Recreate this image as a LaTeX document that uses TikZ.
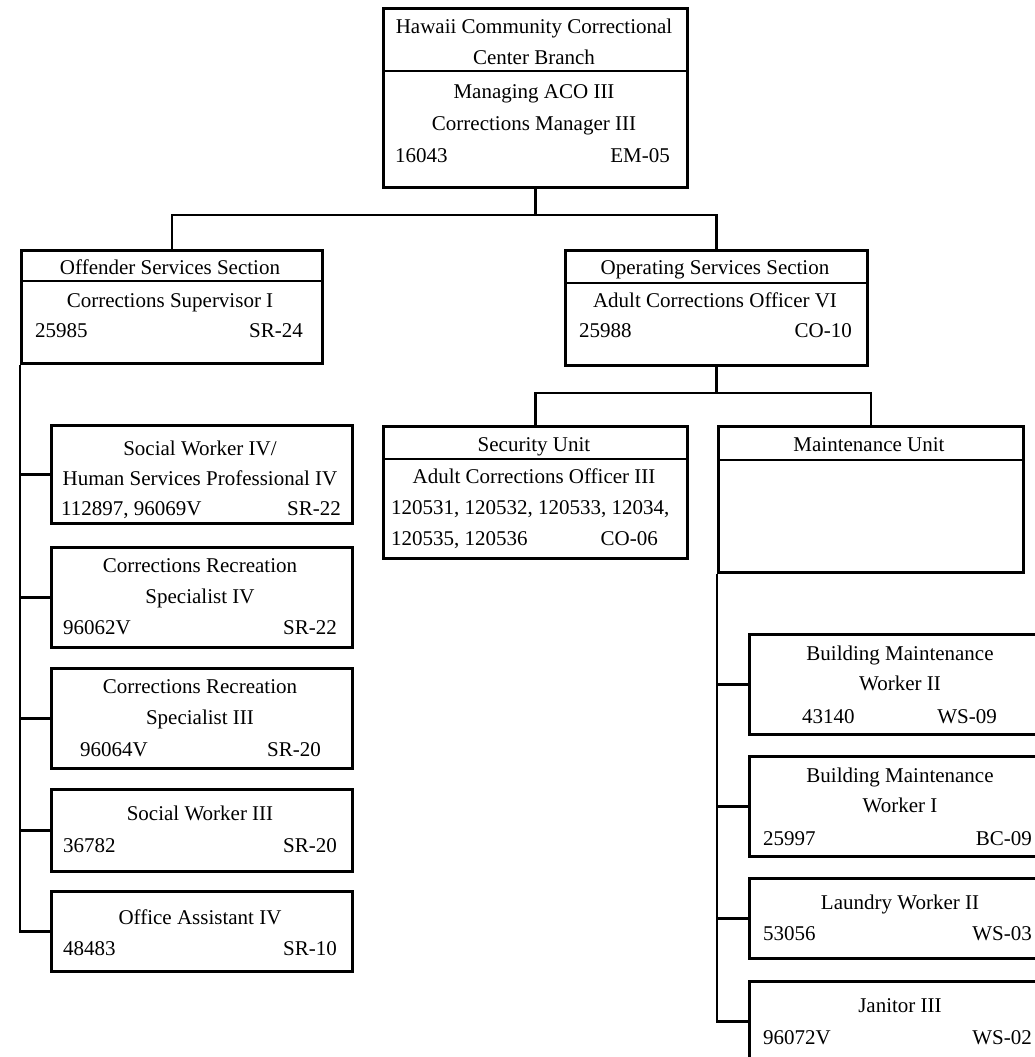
\documentclass[tikz,border=0pt]{standalone}
\usepackage{fontspec}
\setmainfont{Liberation Serif}
\begin{document}
\begin{tikzpicture}[x=1pt,y=-1pt,
  box/.style={draw, line width=2.6pt, inner sep=0pt, anchor=north west},
  ln/.style={line width=2.6pt},
  conn/.style={line width=2.6pt},
  tc/.style={inner sep=0pt, anchor=base, font=\fontsize{21}{25}\selectfont},
  tl/.style={tc, anchor=base west},
  tr/.style={tc, anchor=base east}]
\useasboundingbox (0,0) rectangle (1035,1057);
\clip (0,0) rectangle (1035,1057);
\fill[white] (0,0) rectangle (1035,1057);

% ---- boxes ----
\node[box, minimum width=304pt, minimum height=179pt] (top) at (382,7) {};
\node[box, minimum width=301pt, minimum height=113pt] (off) at (20,249) {};
\node[box, minimum width=302pt, minimum height=115pt] (ops) at (564,249) {};
\node[box, minimum width=304pt, minimum height=132pt] (sec) at (382,425) {};
\node[box, minimum width=305pt, minimum height=146pt] (mnt) at (717,425) {};

\node[box, minimum width=301pt, minimum height=98pt] (swf) at (50,424) {};
\node[box, minimum width=301pt, minimum height=100pt] (crf) at (50,546) {};
\node[box, minimum width=301pt, minimum height=100pt] (crt) at (50,667) {};
\node[box, minimum width=301pt, minimum height=82pt] (swt) at (50,788) {};
\node[box, minimum width=301pt, minimum height=80pt] (oa) at (50,890) {};

\node[box, minimum width=304pt, minimum height=100pt] (bmb) at (748,633) {};
\node[box, minimum width=304pt, minimum height=100pt] (bma) at (748,755) {};
\node[box, minimum width=304pt, minimum height=80pt] (lw) at (748,877) {};
\node[box, minimum width=304pt, minimum height=80pt] (jan) at (748,980) {};

% ---- dividers ----
\draw[ln] (top.west |- 0,71) -- (top.east |- 0,71);
\draw[ln] (off.west |- 0,281) -- (off.east |- 0,281);
\draw[ln] (ops.west |- 0,283) -- (ops.east |- 0,283);
\draw[ln] (sec.west |- 0,459) -- (sec.east |- 0,459);
\draw[ln] (mnt.west |- 0,460) -- (mnt.east |- 0,460);

% ---- connectors ----
\coordinate (j1) at (top.south |- 0,215);
\coordinate (j2) at (ops.south |- 0,393);
\draw[conn] (top.south) -- (j1);
\draw[conn] (off.north) |- (j1) -| (ops.north);
\draw[conn] (ops.south) -- (j2);
\draw[conn] (sec.north) |- (j2) -| (mnt.north);

\draw[conn] (off.south west) |- (oa.west);
\foreach \n in {swf,crf,crt,swt}{\draw[conn] (\n.west) -- (\n.west -| off.west);}
\draw[conn] (mnt.south west) |- (jan.west);
\foreach \n in {bmb,bma,lw}{\draw[conn] (\n.west) -- (\n.west -| mnt.west);}

% ---- texts ----
\node[tc] (a1) at (534,34) {Hawaii Community Correctional};
\node[tc] (a2) at (534,65) {Center Branch};
\node[tc] (a3) at (534,98) {Managing ACO III};
\node[tc] (a4) at (534,130) {Corrections Manager III};
\node[tl] (a5) at (395,162) {16043};
\node[tr] (a6) at (670,162) {EM-05};

\node[tc] (b1) at (170,274) {Offender Services Section};
\node[tc] (b2) at (170,307) {Corrections Supervisor I};
\node[tl] (b3) at (35,337) {25985};
\node[tr] (b4) at (303,337) {SR-24};

\node[tc] (c1) at (715,274) {Operating Services Section};
\node[tc] (c2) at (715,307) {Adult Corrections Officer VI};
\node[tl] (c3) at (579,337) {25988};
\node[tr] (c4) at (852,337) {CO-10};

\node[tc] (d1) at (534,451) {Security Unit};
\node[tc] (d2) at (534,483) {Adult Corrections Officer III};
\node[tl] (d3) at (391,514) {120531, 120532, 120533, 12034,};
\node[tl] (d4) at (391,545) {120535, 120536};
\node[tr] (d5) at (658,545) {CO-06};

\node[tc] (e1) at (869,451) {Maintenance Unit};

\node[tc] (f1) at (200,455) {Social Worker IV/};
\node[tc] (f2) at (200,485) {Human Services Professional IV};
\node[tl] (f3) at (61,515) {112897, 96069V};
\node[tr] (f4) at (341,515) {SR-22};

\node[tc] (g1) at (200,572) {Corrections Recreation};
\node[tc] (g2) at (200,603) {Specialist IV};
\node[tl] (g3) at (63,634) {96062V};
\node[tr] (g4) at (337,634) {SR-22};

\node[tc] (h1) at (200,693) {Corrections Recreation};
\node[tc] (h2) at (200,724) {Specialist III};
\node[tl] (h3) at (80,756) {96064V};
\node[tr] (h4) at (321,756) {SR-20};

\node[tc] (i1) at (200,820) {Social Worker III};
\node[tl] (i2) at (63,852) {36782};
\node[tr] (i3) at (337,852) {SR-20};

\node[tc] (k1) at (200,924) {Office Assistant IV};
\node[tl] (k2) at (63,955) {48483};
\node[tr] (k3) at (337,955) {SR-10};

\node[tc] (m1) at (900,660) {Building Maintenance};
\node[tc] (m2) at (900,690) {Worker II};
\node[tl] (m3) at (802,723) {43140};
\node[tr] (m4) at (997,723) {WS-09};

\node[tc] (n1) at (900,782) {Building Maintenance};
\node[tc] (n2) at (900,812) {Worker I};
\node[tl] (n3) at (763,845) {25997};
\node[tr] (n4) at (1032,845) {BC-09};

\node[tc] (p1) at (900,909) {Laundry Worker II};
\node[tl] (p2) at (763,940) {53056};
\node[tr] (p3) at (1032,940) {WS-03};

\node[tc] (q1) at (900,1012) {Janitor III};
\node[tl] (q2) at (763,1044) {96072V};
\node[tr] (q3) at (1032,1044) {WS-02};
\end{tikzpicture}
\end{document}
